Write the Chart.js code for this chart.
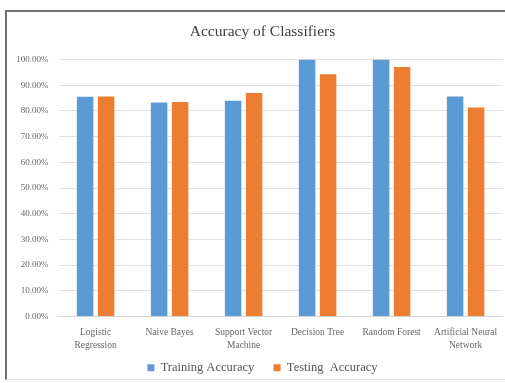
<!DOCTYPE html>
<html>
<head>
<meta charset="utf-8">
<script src="https://cdn.jsdelivr.net/npm/chart.js@4.4.1/dist/chart.umd.min.js"></script>
<style>
  html, body { margin: 0; padding: 0; background: #ffffff; overflow: hidden; width: 505px; height: 383px; }
  #frame {
    position: absolute; left: 5px; top: 10px; width: 620px; height: 367px;
    border-left: 2px solid #707070; border-top: 2px solid #707070; border-bottom: 1px solid #e4e4e4;
  }
  #wrap { position: absolute; left: 8px; top: 12px; width: 509px; height: 372px; }
</style>
</head>
<body>
<div id="frame"></div>
<div id="wrap"><canvas id="c"></canvas></div>
<script>
// Classifier names (multi-line where the axis label wraps)
const classifiers = [
  ["Logistic", "Regression"],
  "Naive Bayes",
  ["Support Vector", "Machine"],
  "Decision Tree",
  "Random Forest",
  ["Artificial Neural", "Network"]
];

// Accuracy in percent
const trainingAccuracy = [85.5, 83.3, 84.0, 100, 100, 85.6];
const testingAccuracy  = [85.6, 83.5, 87.0, 94.3, 97.1, 81.4];

// Y-axis range and step, in percent
const yMin = 0;
const yMax = 100;
const yStep = 10;

const serif = "'Liberation Serif', 'DejaVu Serif', serif";

new Chart(document.getElementById('c'), {
  type: 'bar',
  data: {
    labels: classifiers,
    datasets: [
      {
        // trailing spaces widen the gap before the next legend entry
        label: 'Training Accuracy   ',
        data: trainingAccuracy,
        backgroundColor: '#5B9BD5',
        borderWidth: 0,
        categoryPercentage: 0.567,
        barPercentage: 0.786
      },
      {
        label: 'Testing  Accuracy',
        data: testingAccuracy,
        backgroundColor: '#ED7D31',
        borderWidth: 0,
        categoryPercentage: 0.567,
        barPercentage: 0.786
      }
    ]
  },
  options: {
    responsive: true,
    maintainAspectRatio: false,
    animation: false,
    devicePixelRatio: 1,
    layout: { padding: 0 },
    plugins: {
      title: {
        display: true,
        text: 'Accuracy of Classifiers',
        color: '#3f3f3f',
        font: { family: serif, size: 15.5, weight: 'normal', lineHeight: 1.2 },
        padding: { top: 11, bottom: 18 }
      },
      legend: {
        display: true,
        position: 'bottom',
        labels: {
          color: '#555555',
          font: { family: serif, size: 12.5 },
          boxWidth: 7,
          boxHeight: 7,
          padding: 10
        }
      },
      tooltip: { enabled: false }
    },
    scales: {
      x: {
        grid: { display: false, drawTicks: false },
        border: { display: true, color: '#d6d6d6', width: 1 },
        ticks: {
          color: '#666666',
          font: { family: serif, size: 9.5, lineHeight: 1.35 },
          padding: 9.5,
          maxRotation: 0,
          minRotation: 0,
          autoSkip: false
        },
        afterFit: (s) => { s.height = 35; }
      },
      y: {
        min: yMin,
        max: yMax,
        grid: { color: '#e2e2e2', lineWidth: 1, drawTicks: false },
        border: { display: false },
        ticks: {
          stepSize: yStep,
          color: '#666666',
          font: { family: serif, size: 9 },
          padding: 10,
          callback: (v) => v.toFixed(2) + '%'
        },
        afterFit: (s) => { s.width = 50.6; }
      },
      yRight: {
        position: 'right',
        display: true,
        grid: { display: false, drawTicks: false },
        border: { display: false },
        ticks: { display: false },
        afterFit: (s) => { s.width = 14.4; }
      }
    }
  }
});
</script>
</body>
</html>
